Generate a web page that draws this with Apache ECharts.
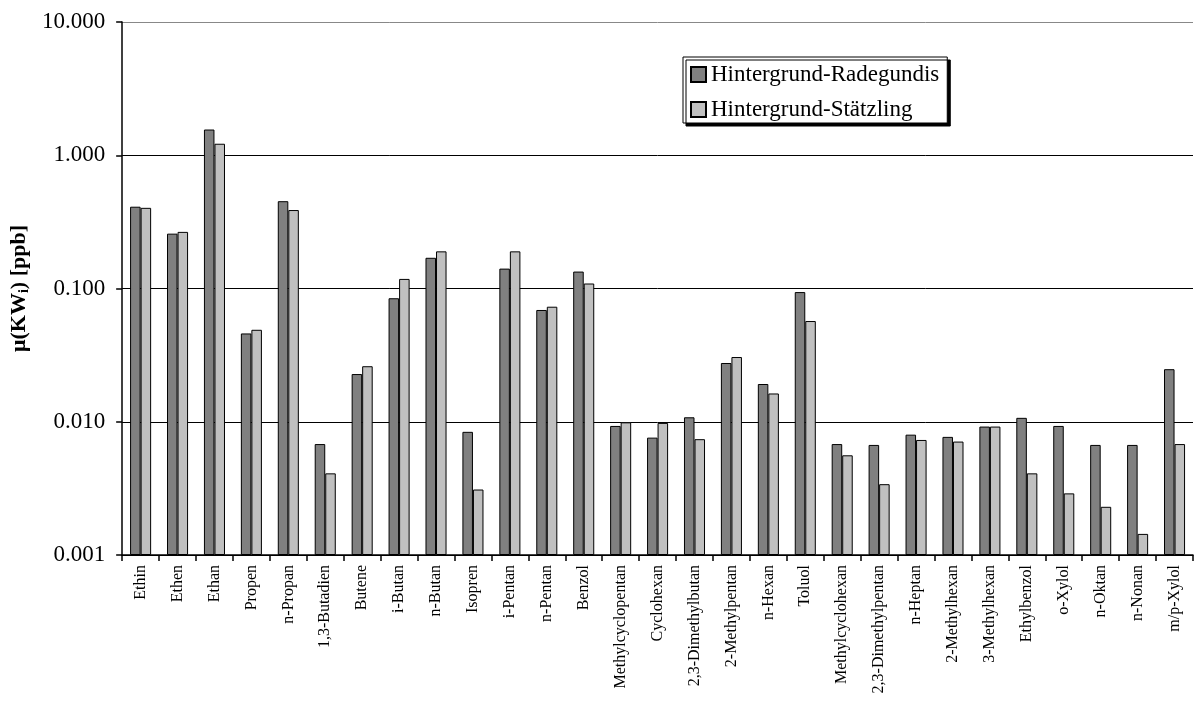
<!DOCTYPE html>
<html>
<head>
<meta charset="utf-8">
<script src="https://cdn.jsdelivr.net/npm/echarts@6/dist/echarts.min.js"></script>
<style>
  html, body { margin: 0; padding: 0; background: #fff; }
  #chart { width: 1194px; height: 715px; }
</style>
</head>
<body>
<div id="chart"></div>
<script>
// Hydrocarbon background concentrations, mean per component [ppb]
const categories = [
  'Ethin', 'Ethen', 'Ethan', 'Propen', 'n-Propan', '1,3-Butadien', 'Butene',
  'i-Butan', 'n-Butan', 'Isopren', 'i-Pentan', 'n-Pentan', 'Benzol',
  'Methylcyclopentan', 'Cyclohexan', '2,3-Dimethylbutan', '2-Methylpentan',
  'n-Hexan', 'Toluol', 'Methylcyclohexan', '2,3-Dimethylpentan', 'n-Heptan',
  '2-Methylhexan', '3-Methylhexan', 'Ethylbenzol', 'o-Xylol', 'n-Oktan',
  'n-Nonan', 'm/p-Xylol'
];

const radegundis = [
  0.411, 0.258, 1.56, 0.046, 0.452, 0.0068, 0.0228,
  0.0845, 0.170, 0.0084, 0.141, 0.069, 0.134,
  0.0093, 0.0076, 0.0108, 0.0276,
  0.0192, 0.094, 0.0068, 0.0067, 0.0080,
  0.0077, 0.0092, 0.0107, 0.0093, 0.0067,
  0.0067, 0.0248
];

const staetzling = [
  0.403, 0.266, 1.22, 0.049, 0.388, 0.0041, 0.0261,
  0.118, 0.190, 0.0031, 0.190, 0.073, 0.109,
  0.0099, 0.0098, 0.0074, 0.0306,
  0.0163, 0.057, 0.0056, 0.0034, 0.0073,
  0.0071, 0.0092, 0.0041, 0.0029, 0.0023,
  0.00144, 0.0068
];

// decades shown on the value axis: 0.001 ... 10
const yMin = 0.001;
const yMax = 10;

// The value axis is logarithmic; bars must rise from the 0.001 floor,
// so values are placed on a linear axis in decades above yMin.
const toDecades = v => Math.log10(v / yMin);
const fromDecades = d => yMin * Math.pow(10, d);

const serif = '"Liberation Serif", "Times New Roman", serif';
const chart = echarts.init(document.getElementById('chart'), null, { renderer: 'canvas' });

chart.setOption({
  animation: false,
  backgroundColor: '#ffffff',
  grid: { left: 122, right: 1, top: 22, bottom: 160, containLabel: false },
  legend: {
    orient: 'vertical',
    left: 683,
    top: 57,
    padding: [6, 8, 2, 7],
    itemGap: 12,
    itemWidth: 15,
    itemHeight: 15,
    icon: 'rect',
    backgroundColor: '#ffffff',
    borderColor: '#000000',
    borderWidth: 1,
    borderRadius: 0,
    shadowColor: '#000000',
    shadowBlur: 0,
    shadowOffsetX: 3,
    shadowOffsetY: 3,
    textStyle: { fontFamily: serif, fontSize: 23, lineHeight: 23, color: '#000', padding: [0, 0, 0, 0] }
  },
  xAxis: {
    type: 'category',
    data: categories,
    axisLine: { lineStyle: { color: '#000', width: 1.5 } },
    axisTick: { show: true, alignWithLabel: false, length: 6, lineStyle: { color: '#000', width: 1.5 } },
    axisLabel: {
      interval: 0,
      rotate: 90,
      margin: 10,
      fontFamily: serif,
      fontSize: 16,
      color: '#000'
    },
    splitLine: { show: false }
  },
  yAxis: {
    type: 'value',
    min: 0,
    max: toDecades(yMax),
    interval: 1,
    axisLine: { show: true, lineStyle: { color: '#000', width: 1.5 } },
    axisTick: { show: true, inside: false, length: 6, lineStyle: { color: '#000', width: 1.5 } },
    axisLabel: {
      margin: 17,
      fontFamily: serif,
      fontSize: 23,
      color: '#000',
      formatter: d => fromDecades(d).toFixed(3)
    },
    splitLine: {
      show: true,
      lineStyle: { color: ['#000', '#000', '#000', '#000', '#888'], width: 1 }
    },
    name: '{a|μ(KW}{s|i}{a|) [ppb]}',
    nameLocation: 'middle',
    nameGap: 87,
    nameTextStyle: {
      rich: {
        a: { fontFamily: serif, fontSize: 22, fontWeight: 'bold', color: '#000' },
        s: { fontFamily: serif, fontSize: 14, fontWeight: 'bold', color: '#000', padding: [10, 0, 0, 0] }
      }
    }
  },
  series: [
    {
      name: 'Hintergrund-Radegundis',
      type: 'bar',
      data: radegundis.map(toDecades),
      barGap: '0%',
      barCategoryGap: '43%',
      itemStyle: { color: '#808080', borderColor: '#000', borderWidth: 1 }
    },
    {
      name: 'Hintergrund-Stätzling',
      type: 'bar',
      data: staetzling.map(toDecades),
      barGap: '0%',
      barCategoryGap: '43%',
      itemStyle: { color: '#c0c0c0', borderColor: '#000', borderWidth: 1 }
    }
  ]
});
</script>
</body>
</html>
